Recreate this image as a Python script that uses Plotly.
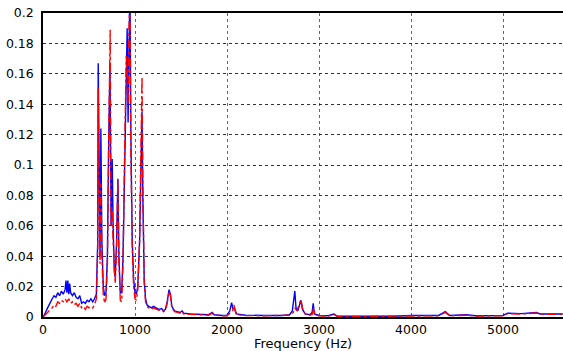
import plotly.graph_objects as go

# Blue (solid) spectrum: frequency (Hz) and amplitude
blue_freq = [0, 20, 50, 80, 100, 120, 140, 160, 180, 200, 220, 240, 250, 260, 270, 280, 290, 300,
             320, 340, 360, 380, 400, 420, 440, 460, 480, 500, 520, 540, 560, 580, 595, 600, 610,
             620, 629, 640, 655, 670, 685, 700, 715, 728, 740, 752, 762, 775, 785, 800, 814, 825,
             840, 855, 870, 885, 900, 915, 925, 935, 945, 955, 970, 985, 1000, 1015, 1030, 1050,
             1065, 1076, 1085, 1100, 1115, 1130, 1150, 1180, 1200, 1230, 1260, 1290, 1310, 1330,
             1350, 1370, 1385, 1400, 1430, 1460, 1490, 1512, 1530, 1600, 1700, 1800, 1840, 1860,
             1950, 2000, 2030, 2050, 2065, 2080, 2100, 2200, 2400, 2600, 2680, 2710, 2737, 2750,
             2770, 2790, 2803, 2820, 2850, 2900, 2925, 2937, 2950, 3000, 3100, 3163, 3200, 3500,
             3800, 4000, 4300, 4373, 4420, 4600, 4700, 5000, 5050, 5200, 5365, 5400, 5650]
blue_amp = [0.0, 0.002, 0.006, 0.010, 0.012, 0.014, 0.013, 0.016, 0.014, 0.017, 0.015, 0.018,
            0.024, 0.016, 0.024, 0.015, 0.022, 0.016, 0.014, 0.016, 0.013, 0.012, 0.014, 0.009,
            0.010, 0.009, 0.011, 0.010, 0.012, 0.010, 0.012, 0.015, 0.050, 0.167, 0.090, 0.040,
            0.124, 0.050, 0.020, 0.014, 0.016, 0.040, 0.120, 0.165, 0.060, 0.104, 0.060, 0.030,
            0.026, 0.050, 0.091, 0.040, 0.016, 0.016, 0.040, 0.100, 0.155, 0.190, 0.128, 0.205,
            0.220, 0.120, 0.050, 0.025, 0.016, 0.015, 0.020, 0.050, 0.110, 0.135, 0.080, 0.025,
            0.012, 0.008, 0.007, 0.006, 0.007, 0.006, 0.005, 0.0055, 0.004, 0.005, 0.010, 0.018,
            0.015, 0.007, 0.004, 0.0035, 0.003, 0.004, 0.0025, 0.002, 0.0018, 0.0015, 0.003,
            0.0015, 0.001, 0.001, 0.004, 0.0094, 0.005, 0.006, 0.002, 0.0012, 0.001, 0.001,
            0.0015, 0.004, 0.017, 0.006, 0.004, 0.009, 0.011, 0.005, 0.002, 0.0015, 0.003, 0.009,
            0.002, 0.001, 0.0008, 0.002, 0.0005, 0.0005, 0.0005, 0.001, 0.001, 0.0035, 0.001,
            0.0015, 0.0008, 0.001, 0.0025, 0.0022, 0.003, 0.002, 0.002]

# Red (dash-dot) spectrum
red_freq = [0, 20, 50, 80, 100, 120, 140, 160, 180, 200, 220, 240, 260, 280, 300, 320, 340, 360,
            380, 400, 420, 440, 460, 480, 500, 520, 540, 560, 580, 595, 600, 610, 620, 629, 640,
            655, 670, 685, 700, 715, 730, 740, 752, 762, 775, 785, 800, 814, 825, 840, 855, 870,
            885, 905, 915, 925, 935, 945, 955, 970, 985, 1000, 1015, 1030, 1050, 1065, 1076, 1085,
            1100, 1115, 1130, 1150, 1180, 1200, 1230, 1260, 1290, 1310, 1330, 1350, 1370, 1385,
            1400, 1430, 1460, 1490, 1512, 1530, 1600, 1700, 1800, 1840, 1860, 1950, 2000, 2040,
            2060, 2075, 2090, 2110, 2200, 2400, 2600, 2680, 2720, 2737, 2760, 2785, 2803, 2820,
            2850, 2900, 2930, 2940, 2955, 3000, 3100, 3163, 3200, 3500, 3800, 4000, 4300, 4373,
            4420, 4600, 4700, 5000, 5050, 5200, 5365, 5400, 5650]
red_amp = [0.0, 0.001, 0.003, 0.005, 0.006, 0.008, 0.007, 0.010, 0.009, 0.011, 0.010, 0.012,
           0.010, 0.012, 0.009, 0.010, 0.008, 0.009, 0.007, 0.009, 0.006, 0.007, 0.005, 0.007,
           0.006, 0.007, 0.006, 0.008, 0.012, 0.045, 0.151, 0.080, 0.035, 0.088, 0.040, 0.015,
           0.009, 0.012, 0.035, 0.120, 0.189, 0.060, 0.070, 0.050, 0.028, 0.022, 0.045, 0.090,
           0.038, 0.011, 0.010, 0.035, 0.100, 0.172, 0.160, 0.140, 0.190, 0.215, 0.110, 0.045,
           0.020, 0.012, 0.011, 0.018, 0.050, 0.120, 0.158, 0.090, 0.022, 0.010, 0.007, 0.006,
           0.005, 0.006, 0.005, 0.0045, 0.005, 0.0035, 0.0045, 0.009, 0.017, 0.014, 0.006,
           0.0035, 0.003, 0.0025, 0.0035, 0.002, 0.0018, 0.0015, 0.0012, 0.0025, 0.0012, 0.0008,
           0.0008, 0.003, 0.004, 0.0079, 0.004, 0.0015, 0.001, 0.0008, 0.0008, 0.0012, 0.003,
           0.006, 0.004, 0.008, 0.0116, 0.006, 0.002, 0.0012, 0.002, 0.006, 0.0015, 0.0008,
           0.0006, 0.0015, 0.0004, 0.0004, 0.0004, 0.0008, 0.0008, 0.003, 0.0008, 0.0012, 0.0006,
           0.0008, 0.0022, 0.002, 0.0026, 0.0018, 0.0018]

x_ticks = [0, 1000, 2000, 3000, 4000, 5000]
y_ticks = [0, 0.02, 0.04, 0.06, 0.08, 0.1, 0.12, 0.14, 0.16, 0.18, 0.2]
y_tick_text = ["0", "0.02", "0.04", "0.06", "0.08", "0.1", "0.12", "0.14", "0.16", "0.18", "0.2"]

fig = go.Figure()
fig.add_trace(go.Scatter(x=blue_freq, y=blue_amp, mode="lines",
                         line=dict(color="#0000ff", width=1.4), showlegend=False))
fig.add_trace(go.Scatter(x=red_freq, y=red_amp, mode="lines",
                         line=dict(color="#ff0000", width=1.4, dash="dashdot"), showlegend=False))

font = dict(family="DejaVu Sans", size=12.5, color="black")
fig.update_layout(
    width=563, height=351,
    margin=dict(l=43, r=0, t=13, b=34),
    paper_bgcolor="white", plot_bgcolor="white",
    font=font,
    xaxis=dict(range=[0, 5652], tickvals=x_ticks, showgrid=True, gridcolor="#666666",
               griddash="dot", gridwidth=1, showline=True, linecolor="black", linewidth=1.5,
               mirror=True, ticks="", zeroline=False, ticklabelstandoff=0),
    yaxis=dict(range=[0, 0.2], tickvals=y_ticks, ticktext=y_tick_text, showgrid=True,
               gridcolor="#333333", griddash="dot", gridwidth=1, showline=True,
               linecolor="black", linewidth=1.5, ticks="", zeroline=False,
               ticklabelstandoff=5),
    annotations=[dict(text="Frequency (Hz)", x=0.5, y=0, xref="paper", yref="paper",
                      xanchor="center", yanchor="top", yshift=-16.5, showarrow=False,
                      font=dict(family="DejaVu Sans", size=13, color="black"))],
)
fig.write_html("out.html")
